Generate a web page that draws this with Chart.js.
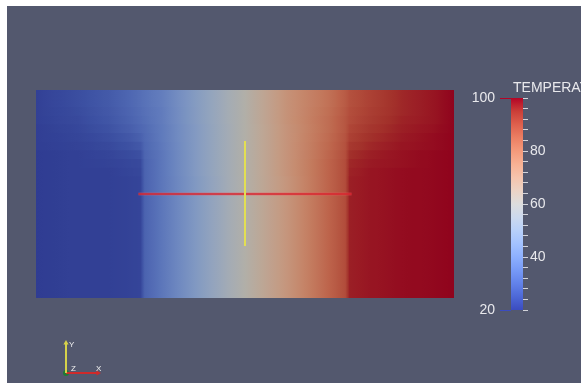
<!DOCTYPE html>
<html>
<head>
<meta charset="utf-8">
<script src="https://cdn.jsdelivr.net/npm/chart.js@4.4.1/dist/chart.umd.min.js"></script>
<style>
  html, body { margin: 0; padding: 0; background: #fff; overflow: hidden; width: 581px; height: 383px; }
  #view { position: absolute; left: 7px; top: 6px; width: 574px; height: 377px; background: #53586e; }
  canvas { position: absolute; }
  #main { left: 0; top: 0; }
  #bar { left: 460px; top: 80px; }
  #triad { left: 50px; top: 330px; }
  #title { position: absolute; left: 513px; top: 79px; font: 14px "Liberation Sans", Arial, sans-serif; color: #e8e8ec; white-space: nowrap; }
</style>
</head>
<body>
<div id="view"></div>
<canvas id="main" width="581" height="383"></canvas>
<canvas id="bar" width="121" height="250"></canvas>
<canvas id="triad" width="70" height="53"></canvas>
<div id="title">TEMPERATURE</div>
<script>
// plate coordinates (x 0..2, y 0..1) of the temperature samples
const xs = [0, 0.2, 0.35, 0.45, 0.5, 0.52, 0.6, 0.8, 1.0, 1.2, 1.4, 1.48, 1.5, 1.6, 1.75, 1.9, 2.0]
const rowY = [0.97917, 0.9375, 0.89583, 0.85417, 0.8125, 0.77083, 0.72917, 0.6875,
              0.64583, 0.60417, 0.5625, 0.52083, 0.47917, 0.4375, 0.39583, 0.35417,
              0.3125, 0.27083, 0.22917, 0.1875, 0.14583, 0.10417, 0.0625, 0.02083]

// temperature (top row first)
const rowTemps = [
  [21, 24, 27, 30, 32, 33, 36, 48, 60, 73, 82, 87, 89, 92, 96, 98, 100],
  [21, 24, 27, 30, 32, 33, 36, 48, 60, 73, 82, 87, 89, 92, 96, 98, 100],
  [21, 23.5, 26.5, 29.5, 31.5, 32.5, 35.5, 48, 60, 73, 82.5, 87.5, 89.5, 92.5, 96, 98, 100],
  [21, 23, 26, 29, 31, 32, 35.5, 48, 60, 73, 83, 88, 90, 93, 96.5, 98, 100],
  [20.5, 22.5, 25, 28, 30, 31, 35, 47.5, 60, 72.5, 83, 88, 91, 94, 97, 98.5, 100],
  [20.5, 22, 24, 26.5, 28.5, 30.5, 35, 47.5, 60, 72.5, 83.5, 88.5, 92, 95, 97.5, 99, 100],
  [20.5, 21.5, 23, 25, 26.5, 30, 34.5, 47.5, 60, 72.5, 84, 89, 93.5, 96, 98, 99, 100],
  [20, 21, 22, 23.5, 24.5, 29.5, 34, 47.5, 60, 72.5, 84.5, 89.5, 95, 97, 98.5, 99.5, 100],
  [20, 21, 21.5, 22.5, 23, 29, 34, 47.5, 60, 72.5, 85, 90, 96, 97.5, 98.5, 99.5, 100],
  [20, 21, 21, 22, 22.5, 29, 34, 47.5, 60, 72.5, 85, 90, 96.5, 98, 99, 99.5, 100],
  [20, 21, 21, 21.5, 22, 29, 34, 47, 60, 72, 85, 90, 97, 98, 99, 99.5, 100],
  [20, 21, 21, 21.5, 22, 29, 34, 47, 60, 72, 85, 90, 97, 98, 99, 99.5, 100],
  [20, 21, 21, 21.5, 22, 29, 34, 47, 60, 72, 85, 90, 97, 98, 99, 99.5, 100],
  [20, 21, 21, 21.5, 22, 29, 34, 47, 60, 72, 85, 90, 97, 98, 99, 99.5, 100],
  [20, 21, 21, 21.5, 22, 29, 34, 47, 60, 72, 85, 90, 97, 98, 99, 99.5, 100],
  [20, 21, 21, 21.5, 22, 29, 34, 47, 60, 72, 85, 90, 97, 98, 99, 99.5, 100],
  [20, 21, 21, 21.5, 22, 29, 34, 47, 60, 72, 85, 90, 97, 98, 99, 99.5, 100],
  [20, 21, 21, 21.5, 22, 29, 34, 47, 60, 72, 85, 90, 97, 98, 99, 99.5, 100],
  [20, 21, 21, 21.5, 22, 29, 34, 47, 60, 72, 85, 90, 97, 98, 99, 99.5, 100],
  [20, 21, 21, 21.5, 22, 29, 34, 47, 60, 72, 85, 90, 97, 98, 99, 99.5, 100],
  [20, 21, 21, 21.5, 22, 29, 34, 47, 60, 72, 85, 90, 97, 98, 99, 99.5, 100],
  [20, 21, 21, 21.5, 22, 29, 34, 47, 60, 72, 85, 90, 97, 98, 99, 99.5, 100],
  [20, 21, 21, 21.5, 22, 29, 34, 47, 60, 72, 85, 90, 97, 98, 99, 99.5, 100],
  [20, 21, 21, 21.5, 22, 29, 34, 47, 60, 72, 85, 90, 97, 98, 99, 99.5, 100]
]

// probe widget lines
const lineX = [{ x: 0.49, y: 0.5 }, { x: 1.51, y: 0.5 }]
const lineY = [{ x: 1.0, y: 0.25 }, { x: 1.0, y: 0.755 }]

// colour legend
const rangeTicks = [20, 100]
const barTicks = [20, 24, 28, 32, 36, 40, 44, 48, 52, 56, 60, 64, 68, 72, 76, 80, 84, 88, 92, 96, 100]
const barLabels = [40, 60, 80]

// "Cool to Warm" colour map
const cmap = [
  [59, 76, 192], [77, 104, 215], [98, 130, 234], [119, 154, 247], [141, 176, 254],
  [163, 194, 255], [184, 208, 249], [204, 217, 238], [221, 221, 221], [236, 211, 197],
  [245, 196, 173], [247, 177, 148], [244, 154, 123], [236, 127, 99], [222, 96, 77],
  [203, 62, 56], [180, 4, 38]
]
const shade = [0.80, 0.79, 0.76]   // scene lighting on the plate
const font = { family: '"Liberation Sans", Arial, sans-serif', size: 14 }
const textColor = '#e8e8ec'

function mapColor(t, light) {
  const lo = rangeTicks[0], hi = rangeTicks[1]
  let u = Math.min(1, Math.max(0, (t - lo) / (hi - lo))) * (cmap.length - 1)
  const i = Math.min(cmap.length - 2, Math.floor(u))
  const f = u - i
  const c = [0, 1, 2].map(k => Math.round((cmap[i][k] + f * (cmap[i + 1][k] - cmap[i][k])) * (light ? light[k] : 1)))
  return `rgb(${c[0]},${c[1]},${c[2]})`
}

function rowGradient(chart, temps) {
  const sx = chart.scales.x
  if (!chart.chartArea || !temps) return 'transparent'
  const x0 = sx.getPixelForValue(xs[0]), x1 = sx.getPixelForValue(xs[xs.length - 1])
  const g = chart.ctx.createLinearGradient(x0, 0, x1, 0)
  for (let i = 0; i < xs.length; i++) {
    const p = (sx.getPixelForValue(xs[i]) - x0) / (x1 - x0)
    g.addColorStop(p, mapColor(temps[i], shade))
    if (i < xs.length - 1) {
      // extra stops so the colour follows the map between samples
      const pn = (sx.getPixelForValue(xs[i + 1]) - x0) / (x1 - x0)
      for (let k = 1; k < 5; k++) {
        const f = k / 5
        g.addColorStop(p + f * (pn - p), mapColor(temps[i] + f * (temps[i + 1] - temps[i]), shade))
      }
    }
  }
  return g
}

// main view: the plate and the probe lines
new Chart(document.getElementById('main'), {
  type: 'bar',
  data: {
    datasets: [
      {
        type: 'line', data: lineY, borderColor: '#e2de52', borderWidth: 2,
        pointRadius: 0, order: 0
      },
      {
        type: 'line', data: lineX, borderColor: '#d8262f', borderWidth: 1.5,
        pointRadius: 0, order: 1
      },
      {
        type: 'line', data: lineX, borderColor: 'rgba(240,80,90,0.3)', borderWidth: 3.5,
        pointRadius: 0, order: 2
      },
      {
        type: 'bar', indexAxis: 'y',
        data: rowY.map(y => ({ y: y, x: [xs[0], xs[xs.length - 1]] })),
        backgroundColor: ctx => rowGradient(ctx.chart, rowTemps[ctx.dataIndex]),
        borderWidth: 0, barPercentage: 1.08, categoryPercentage: 1, order: 3
      }
    ]
  },
  options: {
    responsive: false, devicePixelRatio: 1, animation: false, events: [],
    layout: { padding: { left: 36, right: 127, top: 90, bottom: 85 } },
    plugins: { legend: { display: false }, tooltip: { enabled: false } },
    scales: {
      x: { type: 'linear', min: 0, max: 2, display: false, offset: false },
      y: { type: 'linear', min: 0, max: 1, display: false, offset: false }
    }
  }
})

// colour legend bar
new Chart(document.getElementById('bar'), {
  type: 'bar',
  data: {
    labels: ['TEMPERATURE'],
    datasets: [{
      data: [[rangeTicks[0], rangeTicks[1]]], yAxisID: 'yl',
      backgroundColor: ctx => {
        const chart = ctx.chart
        if (!chart.chartArea) return 'transparent'
        const s = chart.scales.yl
        const y0 = s.getPixelForValue(rangeTicks[0]), y1 = s.getPixelForValue(rangeTicks[1])
        const g = chart.ctx.createLinearGradient(0, y0, 0, y1)
        cmap.forEach((c, i) => g.addColorStop(i / (cmap.length - 1), `rgb(${c[0]},${c[1]},${c[2]})`))
        return g
      },
      borderWidth: 0, barPercentage: 1, categoryPercentage: 1
    }]
  },
  options: {
    responsive: false, devicePixelRatio: 1, animation: false, events: [],
    layout: { padding: { top: 18, bottom: 20, left: 0, right: 0 } },
    plugins: { legend: { display: false }, tooltip: { enabled: false } },
    scales: {
      x: { display: false },
      yl: {
        type: 'linear', position: 'left', min: rangeTicks[0], max: rangeTicks[1],
        afterBuildTicks: s => { s.ticks = rangeTicks.map(v => ({ value: v })) },
        afterFit: s => { s.width = 51 },
        border: { display: false },
        grid: {
          drawOnChartArea: false, tickLength: 11, tickWidth: 1,
          tickColor: ctx => ctx.tick && ctx.tick.value === rangeTicks[1] ? 'rgb(180,4,38)' : 'rgb(59,76,192)'
        },
        ticks: { color: textColor, font: font, padding: 5, autoSkip: false }
      },
      yr: {
        type: 'linear', position: 'right', min: rangeTicks[0], max: rangeTicks[1],
        afterBuildTicks: s => { s.ticks = barTicks.map(v => ({ value: v })) },
        afterFit: s => { s.width = 58 },
        border: { display: false },
        grid: { drawOnChartArea: false, tickLength: 5, tickWidth: 1, tickColor: '#d2d3da' },
        ticks: {
          color: textColor, font: font, padding: 2, autoSkip: false,
          callback: v => barLabels.includes(v) ? String(v) : ''
        }
      }
    }
  }
})

// orientation axes in the corner
const axisLetters = {
  id: 'axisLetters',
  afterDatasetsDraw(chart) {
    const ctx = chart.ctx
    ctx.save()
    ctx.font = '8px "Liberation Sans", Arial, sans-serif'
    ctx.fillStyle = '#f0f0f0'
    ctx.textBaseline = 'middle'
    chart.data.datasets.forEach((ds, i) => {
      const pts = chart.getDatasetMeta(i).data
      const p = pts[pts.length - 1]
      ctx.fillText(ds.label, p.x + ds.labelShift[0], p.y + ds.labelShift[1])
    })
    ctx.restore()
  }
}

new Chart(document.getElementById('triad'), {
  type: 'line',
  data: {
    datasets: [
      {
        label: 'Y', data: [{ x: 0, y: 0 }, { x: 0, y: 1 }], labelShift: [3, 2],
        borderColor: '#d6d24a', borderWidth: 2, pointStyle: 'triangle', rotation: 0,
        pointRadius: [0, 3], backgroundColor: '#d6d24a', pointBorderWidth: 0
      },
      {
        label: 'X', data: [{ x: 0, y: 0 }, { x: 1, y: 0 }], labelShift: [-2, -4],
        borderColor: '#cf2a2a', borderWidth: 2, pointStyle: 'triangle', rotation: 90,
        pointRadius: [0, 3], backgroundColor: '#cf2a2a', pointBorderWidth: 0
      },
      {
        label: 'Z', data: [{ x: 0, y: 0 }], labelShift: [5, -4],
        borderColor: '#1f7a34', pointRadius: 3, backgroundColor: '#1f7a34', pointBorderWidth: 0
      }
    ]
  },
  options: {
    responsive: false, devicePixelRatio: 1, animation: false, events: [],
    layout: { padding: { left: 16, right: 22, top: 13, bottom: 10 } },
    plugins: { legend: { display: false }, tooltip: { enabled: false } },
    scales: {
      x: { type: 'linear', min: 0, max: 1, display: false },
      y: { type: 'linear', min: 0, max: 1, display: false }
    },
    clip: false
  },
  plugins: [axisLetters]
})
</script>
</body>
</html>
